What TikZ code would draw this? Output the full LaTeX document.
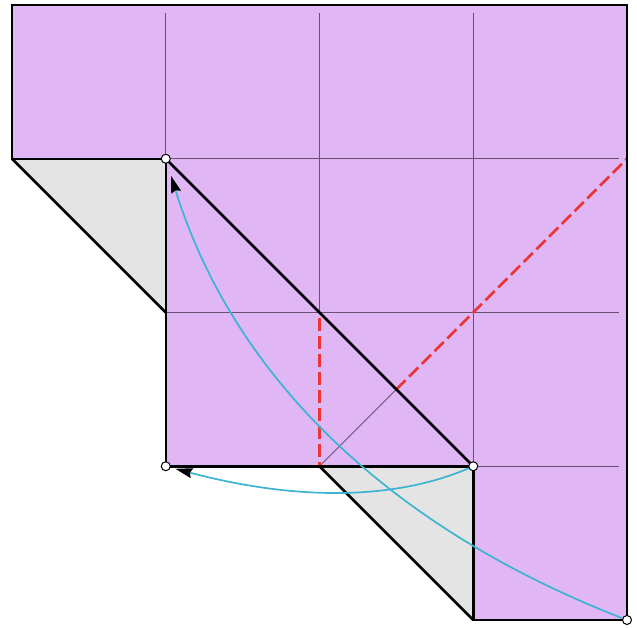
\documentclass[tikz,border=0pt]{standalone}
\usetikzlibrary{arrows.meta}
\definecolor{paper}{RGB}{224,183,244}
\definecolor{flap}{RGB}{228,228,228}
\definecolor{crease}{RGB}{105,80,115}
\definecolor{valley}{RGB}{236,52,52}
\definecolor{motion}{RGB}{60,180,210}
\tikzset{
  edge/.style={line width=2.5pt, black, line join=miter},
  gridline/.style={line width=0.9pt, crease},
  valleyline/.style={line width=2.6pt, valley, dash pattern=on 13pt off 5pt},
  dot/.style={circle, draw=black, fill=white, line width=1pt, inner sep=0pt, minimum size=9pt},
  movearrow/.style={line width=1.7pt, motion, -{Stealth[length=17pt,width=10pt,inset=2pt,black]}}
}
\begin{document}
\begin{tikzpicture}[x=1pt,y=-1pt]
\useasboundingbox (0,0) rectangle (637,627);
% grid coordinates
\coordinate (a00) at (12,5);
\coordinate (a40) at (627,5);
\coordinate (a01) at (12,158.75);
\coordinate (a11) at (165.75,158.75);
\coordinate (a12) at (165.75,312.5);
\coordinate (a13) at (165.75,466.25);
\coordinate (a22) at (319.5,312.5);
\coordinate (a23) at (319.5,466.25);
\coordinate (a33) at (473.25,466.25);
\coordinate (a34) at (473.25,620);
\coordinate (a44) at (627,620);
\coordinate (a41) at (627,158.75);
\coordinate (mid) at (396.4,389.4);
% fills
\fill[paper] (a00) -- (a40) -- (a44) -- (a34) -- (a33) -- (a13) -- (a11) -- (a01) -- cycle;
\fill[flap] (a01) -- (a11) -- (a12) -- cycle;
\fill[flap] (a23) -- (a33) -- (a34) -- cycle;
% thin grid creases
\draw[gridline] (165.75,13) -- (a11);
\draw[gridline] (319.5,13) -- (a22);
\draw[gridline] (473.25,13) -- (a33);
\draw[gridline] (a11) -- (619,158.75);
\draw[gridline] (a12) -- (619,312.5);
\draw[gridline] (a33) -- (619,466.25);
\draw[gridline] (a23) -- (mid);
% red valley folds
\draw[valleyline] (319.5,318) -- (a23);
\draw[valleyline] (mid) -- (a41);
% outlines
\draw[edge] (a00) -- (a40) -- (a44) -- (a34) -- (a33) -- (a13) -- (a11) -- (a01) -- cycle;
\draw[edge] (a01) -- (a12);
\draw[edge] (a23) -- (a34);
\draw[edge] (a11) -- (a33);
% reference points
\node[dot] (p11) at (a11) {};
\node[dot] (p13) at (a13) {};
\node[dot] (p33) at (a33) {};
\node[dot] (p44) at (a44) {};
% motion arrows
\draw[movearrow, shorten >=13pt] (p44) .. controls (383,525) and (232,372) .. (p11);
\draw[movearrow, shorten >=5pt] (p33) .. controls (395,500) and (297,501) .. (p13);
\end{tikzpicture}
\end{document}
